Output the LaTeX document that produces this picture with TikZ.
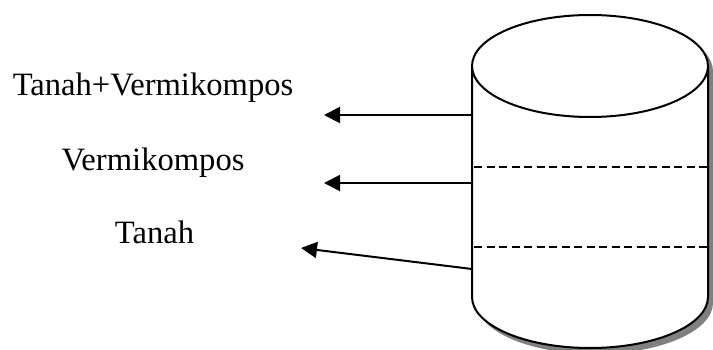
\documentclass[tikz,border=0pt]{standalone}
\usepackage{fontspec}
\setmainfont{Liberation Serif}
\usetikzlibrary{arrows.meta}
\definecolor{shadowgray}{HTML}{808080}
\tikzset{
  outline/.style={line width=2pt, line join=round},
  layer/.style={line width=2.4pt, dash pattern=on 8pt off 4.5pt},
  flow/.style={line width=2pt, -{Triangle[length=16pt,width=16pt]}},
  label/.style={inner sep=0pt, anchor=base, font=\fontsize{32.6}{38}\selectfont}
}
\begin{document}
\begin{tikzpicture}[x=1pt,y=1pt]
\useasboundingbox (0,0) rectangle (713,349);
% shadow
\fill[shadowgray] (477,278) -- (477,46) arc[start angle=180, end angle=360, x radius=118, y radius=51] -- (713,278) arc[start angle=0, end angle=180, x radius=118, y radius=51] -- cycle;
% cylinder body
\fill[white] (472,283) -- (472,52) arc[start angle=180, end angle=360, x radius=118, y radius=51] -- (708,283) arc[start angle=0, end angle=180, x radius=118, y radius=51] -- cycle;
\draw[outline] (472,283) -- (472,52) arc[start angle=180, end angle=360, x radius=118, y radius=51] -- (708,283);
\draw[outline, fill=white] (590,283) ellipse[x radius=118, y radius=51];
% layers
\draw[layer] (474,182) -- (708,182);
\draw[layer] (474,102) -- (708,102);
% labels
\node[label] (t1) at (153,254) {Tanah+Vermikompos};
\node[label] (t2) at (153,179) {Vermikompos};
\node[label] (t3) at (154.5,106) {Tanah};
% arrows
\coordinate (s1) at (472,234);
\coordinate (e1) at (324,234);
\coordinate (s2) at (472,166);
\coordinate (e2) at (324,166);
\coordinate (s3) at (472,80);
\coordinate (e3) at (301,101);
\draw[flow] (s1) -- (e1);
\draw[flow] (s2) -- (e2);
\draw[flow] (s3) -- (e3);
\end{tikzpicture}
\end{document}
